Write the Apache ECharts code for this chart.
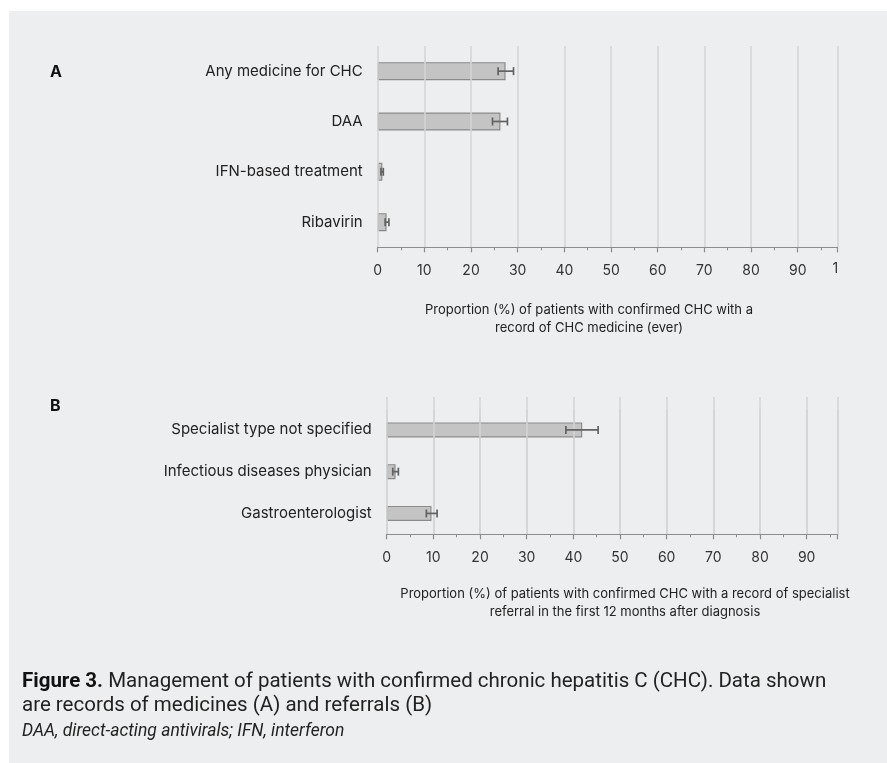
<!DOCTYPE html>
<html>
<head>
<meta charset="utf-8">
<script src="https://cdn.jsdelivr.net/npm/echarts@6/dist/echarts.min.js"></script>
<style>
  html, body { margin: 0; padding: 0; background: #edeef0; overflow: hidden; }
  #chart { width: 887px; height: 763px; }
</style>
</head>
<body>
<div id="chart"></div>
<script>
// Panel A: records of CHC medicines (%), with 95% CI
const medCategories = ['Any medicine for CHC', 'DAA', 'IFN-based treatment', 'Ribavirin'];
const medValues = [27.4, 26.3, 1.0, 1.9];
const medLow = [25.8, 24.6, 0.7, 1.6];
const medHigh = [29.1, 27.8, 1.2, 2.4];

// Panel B: specialist referrals in the first 12 months (%), with 95% CI
const refCategories = ['Specialist type not specified', 'Infectious diseases physician', 'Gastroenterologist'];
const refValues = [41.9, 1.9, 9.6];
const refLow = [38.4, 1.3, 8.5];
const refHigh = [45.3, 2.5, 10.8];

const FONT = 'Inter, Roboto, sans-serif';
const CAPTION_FONT = 'Roboto, "Noto Sans", sans-serif';
const TEXT = '#222222';
const PANEL = '#edeef0';

const chart = echarts.init(document.getElementById('chart'), null, { renderer: 'canvas' });

function errorBars(params, api) {
  const lo = api.coord([api.value(0), api.value(2)]);
  const hi = api.coord([api.value(1), api.value(2)]);
  const cap = 4;
  const style = { stroke: '#626262', lineWidth: 1.7 };
  return {
    type: 'group',
    children: [
      { type: 'line', shape: { x1: lo[0], y1: lo[1], x2: hi[0], y2: hi[1] }, style },
      { type: 'line', shape: { x1: lo[0], y1: lo[1] - cap, x2: lo[0], y2: lo[1] + cap }, style },
      { type: 'line', shape: { x1: hi[0], y1: hi[1] - cap, x2: hi[0], y2: hi[1] + cap }, style }
    ]
  };
}

const gridLineStyle = { color: '#d3d4d6', width: 1.5 };

function valueAxis(gridIndex, max) {
  return {
    type: 'value', gridIndex, min: 0, max, interval: 10,
    axisLine: { show: true, lineStyle: { color: '#8c8c8c', width: 1.2 } },
    axisTick: { show: true, length: 5, lineStyle: { color: '#8c8c8c', width: 1.2 } },
    minorTick: { show: true, splitNumber: 2, length: 3, lineStyle: { color: '#8c8c8c', width: 1 } },
    splitLine: { show: true, lineStyle: gridLineStyle },
    axisLabel: { color: '#333333', fontFamily: FONT, fontSize: 14, margin: 16, showMaxLabel: false },
    z: 3
  };
}

// Gridlines only, for the band above the first referral bar
function gridOnlyAxis(gridIndex, max) {
  return {
    type: 'value', gridIndex, min: 0, max, interval: 10,
    axisLine: { show: false }, axisTick: { show: false }, axisLabel: { show: false },
    splitLine: { show: true, lineStyle: gridLineStyle }
  };
}

function categoryAxis(gridIndex, data) {
  return {
    type: 'category', gridIndex, data, inverse: true,
    axisLine: { show: false }, axisTick: { show: false },
    axisLabel: { color: TEXT, fontFamily: FONT, fontSize: 15, margin: 15 }
  };
}

const barStyle = { color: '#c4c4c4', borderColor: '#8a8a8a', borderWidth: 1.2 };

chart.setOption({
  backgroundColor: PANEL,
  animation: false,
  grid: [
    { left: 377.7, top: 46, width: 459.7, height: 201.3 },
    { left: 386.7, top: 409, width: 450.8, height: 125.3 },
    { left: 386.7, top: 397, width: 450.8, height: 137.3 }
  ],
  xAxis: [valueAxis(0, 98.5), valueAxis(1, 96.6), gridOnlyAxis(2, 96.6)],
  yAxis: [
    categoryAxis(0, medCategories),
    categoryAxis(1, refCategories),
    { type: 'value', gridIndex: 2, show: false }
  ],
  series: [
    { type: 'bar', xAxisIndex: 0, yAxisIndex: 0, data: medValues, barWidth: 18, itemStyle: barStyle },
    { type: 'custom', xAxisIndex: 0, yAxisIndex: 0, renderItem: errorBars,
      data: medLow.map((v, i) => [v, medHigh[i], i]), z: 5 },
    { type: 'bar', xAxisIndex: 1, yAxisIndex: 1, data: refValues, barWidth: 15, itemStyle: barStyle },
    { type: 'custom', xAxisIndex: 1, yAxisIndex: 1, renderItem: errorBars,
      data: refLow.map((v, i) => [v, refHigh[i], i]), z: 5 }
  ]
});

// The top tick of panel A is clipped at the edge, leaving only its first digit.
const x100 = chart.convertToPixel({ xAxisIndex: 0 }, 100);

chart.setOption({
  graphic: [
    { type: 'rect', z: -10, silent: true, shape: { x: 0, y: 0, width: 887, height: 11 }, style: { fill: '#ffffff' } },
    { type: 'rect', z: -10, silent: true, shape: { x: 0, y: 0, width: 9, height: 763 }, style: { fill: '#ffffff' } },
    { type: 'text', x: x100 - 12, y: 269, style: { text: '1', font: '14px ' + FONT, fill: '#333333', verticalAlign: 'middle' } },
    { type: 'text', x: 50, y: 72, style: { text: 'A', font: 'bold 16px ' + FONT, fill: '#111111', verticalAlign: 'middle' } },
    { type: 'text', x: 50, y: 406, style: { text: 'B', font: 'bold 16px ' + FONT, fill: '#111111', verticalAlign: 'middle' } },
    { type: 'text', x: 589, y: 319, style: {
        text: 'Proportion (%) of patients with confirmed CHC with a\nrecord of CHC medicine (ever)',
        font: '13px ' + FONT, fill: TEXT, align: 'center', verticalAlign: 'middle', lineHeight: 18 } },
    { type: 'text', x: 625, y: 603, style: {
        text: 'Proportion (%) of patients with confirmed CHC with a record of specialist\nreferral in the first 12 months after diagnosis',
        font: '13px ' + FONT, fill: TEXT, align: 'center', verticalAlign: 'middle', lineHeight: 18 } },
    { type: 'text', x: 22, y: 694, style: {
        text: '{b|Figure 3.} Management of patients with confirmed chronic hepatitis C (CHC). Data shown\nare records of medicines (A) and referrals (B)',
        font: '20.5px ' + CAPTION_FONT, fill: TEXT, verticalAlign: 'middle', lineHeight: 24,
        rich: { b: { fontWeight: 'bold', fontSize: 20.5, fontFamily: CAPTION_FONT, fill: '#111111' } } } },
    { type: 'text', x: 22, y: 732, style: {
        text: 'DAA, direct-acting antivirals; IFN, interferon',
        font: 'italic 17.5px ' + CAPTION_FONT, fill: TEXT, verticalAlign: 'middle' } }
  ]
});
</script>
</body>
</html>
